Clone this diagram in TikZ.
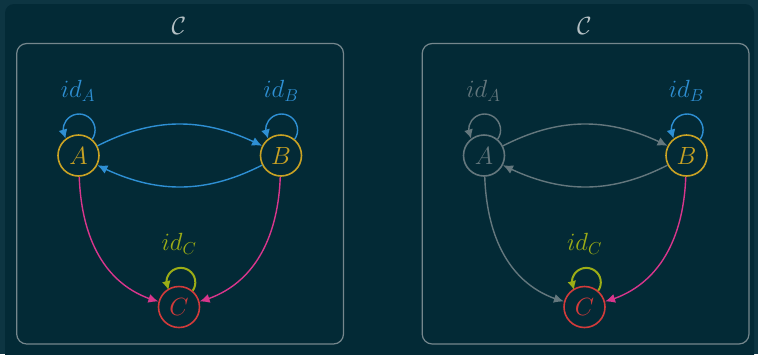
\documentclass[tikz,border=0pt]{standalone}
\usetikzlibrary{arrows.meta,bending}
\definecolor{bgout}{HTML}{0D3542}
\definecolor{bgin}{HTML}{032A36}
\definecolor{framec}{HTML}{75878D}
\definecolor{titlec}{HTML}{B4C0C4}
\definecolor{gold}{HTML}{C9A224}
\definecolor{crimson}{HTML}{D23B3B}
\definecolor{skyb}{HTML}{2E8FD3}
\definecolor{magen}{HTML}{D8368C}
\definecolor{olive}{HTML}{9CAD16}
\definecolor{dim}{HTML}{64777D}
\tikzset{
  obj/.style={circle, draw, line width=1.6pt, minimum size=41pt, inner sep=0pt,
              font=\fontsize{26}{30}\selectfont},
  lbl/.style={font=\fontsize{26}{30}\selectfont, inner sep=0pt},
  arr/.style={line width=1.4pt, -{Latex[length=10pt,width=9pt]}},
  looparr/.style={line width=1.4pt, -{Latex[length=9pt,width=9pt,flex]}},
  thickloop/.style={line width=2pt},
  catbox/.style={draw=framec, line width=1.2pt, rounded corners=10pt},
}
% identity loop: a round arc leaving the node top-right, arriving top-left
\newcommand{\idloop}[3]{% node, style, radius
  \draw[looparr, #2] (#1.50) arc[start angle=-35, end angle=212, radius=#3];}
\begin{document}
\begin{tikzpicture}[x=1pt,y=1pt]
  % backdrop
  \fill[bgout] (0,0) rectangle (758,-354);
  \useasboundingbox (0,0) rectangle (758,-354);
  \fill[bgin, rounded corners=9pt] (5,-4) rectangle (754,-366);

  % left category: everything active
  \draw[catbox] (16.7,-43.5) rectangle (343.5,-344);
  \node[lbl, text=titlec] (T1) at (179,-26) {$\mathcal{C}$};
  \node[obj, draw=gold, text=gold] (A1) at (78.5,-155.5) {$A$};
  \node[obj, draw=gold, text=gold] (B1) at (281,-155.5) {$B$};
  \node[obj, draw=crimson, text=crimson] (C1) at (179,-307) {$C$};
  \node[lbl, text=skyb] (iA1) at (78,-91) {$id_A$};
  \node[lbl, text=skyb] (iB1) at (281,-91) {$id_B$};
  \node[lbl, text=olive] (iC1) at (179,-244) {$id_C$};
  \idloop{A1}{skyb}{16}
  \idloop{B1}{skyb}{16}
  \idloop{C1}{olive, thickloop}{14.5}
  \draw[arr, skyb] (A1) to[bend left=27] (B1);
  \draw[arr, skyb] (B1) to[bend left=27] (A1);
  \draw[arr, magen] (A1) to[out=-88, in=165] (C1);
  \draw[arr, magen] (B1) to[out=-92, in=15] (C1);

  % right category: A and its arrows dimmed
  \begin{scope}[shift={(405.5,0)}]
    \draw[catbox] (16.7,-43.5) rectangle (343.5,-344);
    \node[lbl, text=titlec] (T2) at (179,-26) {$\mathcal{C}$};
    \node[obj, draw=dim, text=dim] (A2) at (78.5,-155.5) {$A$};
    \node[obj, draw=gold, text=gold] (B2) at (281,-155.5) {$B$};
    \node[obj, draw=crimson, text=crimson] (C2) at (179,-307) {$C$};
    \node[lbl, text=dim] (iA2) at (78,-91) {$id_A$};
    \node[lbl, text=skyb] (iB2) at (281,-91) {$id_B$};
    \node[lbl, text=olive] (iC2) at (179,-244) {$id_C$};
    \idloop{A2}{dim}{16}
    \idloop{B2}{skyb}{16}
    \idloop{C2}{olive, thickloop}{14.5}
    \draw[arr, dim] (A2) to[bend left=27] (B2);
    \draw[arr, dim] (B2) to[bend left=27] (A2);
    \draw[arr, dim] (A2) to[out=-88, in=165] (C2);
    \draw[arr, magen] (B2) to[out=-92, in=15] (C2);
  \end{scope}
\end{tikzpicture}
\end{document}
